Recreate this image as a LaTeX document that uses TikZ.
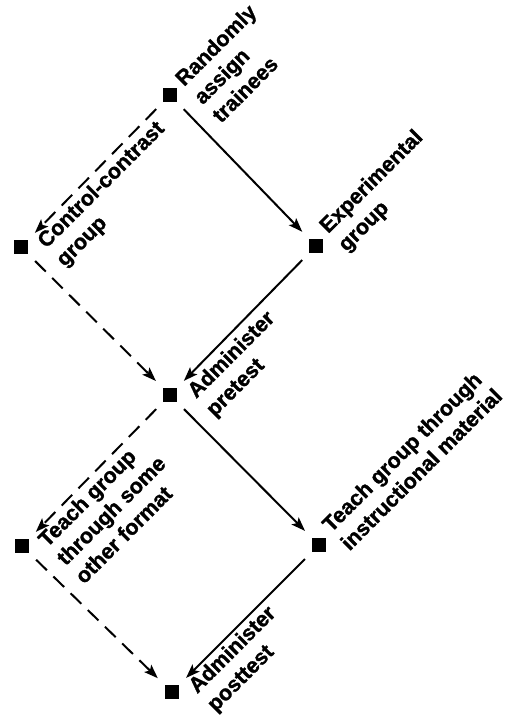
\documentclass[tikz,border=0pt]{standalone}
\usepackage{fontspec}
\setmainfont{Liberation Sans}[BoldFeatures={FakeBold=1.2}]
\usetikzlibrary{arrows.meta,calc}

\begin{document}
\begin{tikzpicture}[x=1pt, y=1pt,
  every node/.style={font=\fontsize{21.5}{26}\selectfont\bfseries},
  blk/.style={fill=black, draw=none, minimum size=14pt, inner sep=0pt, outer sep=0pt},
  lbl/.style={rotate=45, anchor=north west, align=left, inner sep=0pt},
  solidarr/.style={-{Stealth[length=14pt,width=10pt,inset=3pt]}, line width=2pt, shorten <=10pt, shorten >=10pt},
  dasharr/.style={solidarr, dash pattern=on 15pt off 9pt}]
\useasboundingbox (0,0) rectangle (506,718);

\node[blk] (rand) at (170,623) {};
\node[blk] (ctrl) at (21,471) {};
\node[blk] (expt) at (316,472) {};
\node[blk] (pre) at (170,323) {};
\node[blk] (other) at (22,172) {};
\node[blk] (instr) at (319,173) {};
\node[blk] (post) at (172,26) {};

\node[lbl] (randtxt) at ($(rand)+(3,19)$) {Randomly\\assign\\trainees};
\node[lbl] (expttxt) at ($(expt)+(1,23)$) {Experimental\\group};
\node[lbl] (instrtxt) at ($(instr)+(1,23)$) {Teach group through\\instructional material};
\node[lbl] (ctrltxt) at ($(ctrl)+(14,9)$) {Control-contrast\\group};
\node[lbl] (pretxt) at ($(pre)+(15,7)$) {Administer\\pretest};
\node[lbl] (othertxt) at ($(other)+(14,9)$) {Teach group\\through some\\other format};
\node[lbl] (posttxt) at ($(post)+(14,9)$) {Administer\\posttest};

\draw[solidarr] (rand) -- (expt);
\draw[dasharr] (rand) -- (ctrl);
\draw[solidarr] (expt) -- (pre);
\draw[dasharr] (ctrl) -- (pre);
\draw[solidarr] (pre) -- (instr);
\draw[dasharr] (pre) -- (other);
\draw[solidarr] (instr) -- (post);
\draw[dasharr] (other) -- (post);
\end{tikzpicture}
\end{document}
